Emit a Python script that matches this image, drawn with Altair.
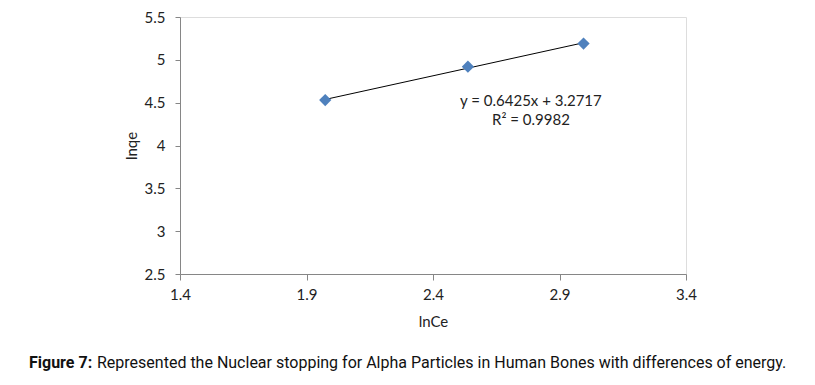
import altair as alt
import pandas as pd

ln_ce = [1.974, 2.538, 2.995]
ln_qe = [4.53, 4.92, 5.19]

x_ticks = [1.4, 1.9, 2.4, 2.9, 3.4]
y_ticks = [2.5, 3, 3.5, 4, 4.5, 5, 5.5]

eq_lines = ["y = 0.6425x + 3.2717", "R² = 0.9982"]
eq_x = [2.787, 2.787]
eq_y = [4.52, 4.30]

caption_bold = "Figure 7:"
caption_text = "Represented the Nuclear stopping for Alpha Particles in Human Bones with differences of energy."

df = pd.DataFrame({"x": ln_ce, "y": ln_qe})
eq_df = pd.DataFrame({"x": eq_x, "y": eq_y, "t": eq_lines})

FONT = "Lato"
AX = "#868686"

xs = alt.Scale(domain=[1.4, 3.4], nice=False, zero=False)
ys = alt.Scale(domain=[2.5, 5.5], nice=False, zero=False)

xenc = alt.X("x:Q", scale=xs, title="lnCe",
             axis=alt.Axis(values=x_ticks, format="~g", grid=False, domainColor=AX, tickColor=AX,
                           tickSize=6, labelPadding=7, labelFontSize=15, labelFont=FONT, labelColor="#222",
                           titleFont=FONT, titleFontSize=15, titleFontWeight="normal", titleColor="#222",
                           titlePadding=12, labelFlush=False))
yenc = alt.Y("y:Q", scale=ys, title="lnqe",
             axis=alt.Axis(values=y_ticks, format="~g", grid=False, domainColor=AX, tickColor=AX,
                           tickSize=5, labelPadding=10, labelFontSize=15, labelFont=FONT, labelColor="#222",
                           titleFont=FONT, titleFontSize=15, titleFontWeight="normal", titleColor="#222",
                           titlePadding=5, labelFlush=False))

base = alt.Chart(df)

line = base.transform_regression("x", "y").mark_line(color="black", strokeWidth=1).encode(x=xenc, y=yenc)
pts = base.mark_point(shape="diamond", filled=True, opacity=1, size=150, color="#4F81BD").encode(x=xenc, y=yenc)

eq = alt.Chart(eq_df).mark_text(font=FONT, fontSize=15, color="#222", align="center", baseline="middle").encode(
    x=alt.X("x:Q", scale=xs), y=alt.Y("y:Q", scale=ys), text="t:N")

cap_df = pd.DataFrame({"b": [caption_bold], "t": [caption_text]})
cap1 = alt.Chart(cap_df).mark_text(font="Roboto", fontSize=16, fontWeight="bold",
                                   align="left", baseline="alphabetic", color="#111").encode(
    x=alt.value(-151), y=alt.value(351), text="b:N")
cap2 = alt.Chart(cap_df).mark_text(font="Roboto", fontSize=16,
                                   align="left", baseline="alphabetic", color="#111").encode(
    x=alt.value(-83), y=alt.value(351), text="t:N")

chart = alt.layer(line, pts, eq, cap1, cap2).properties(
    width=506, height=257,
    autosize=alt.AutoSizeParams(type="none"),
    padding={"left": 172, "top": 9, "right": 121, "bottom": 103},
).configure_view(stroke=None).configure(background="white")

chart.save("out.html", embed_options={"renderer": "svg", "actions": False})
